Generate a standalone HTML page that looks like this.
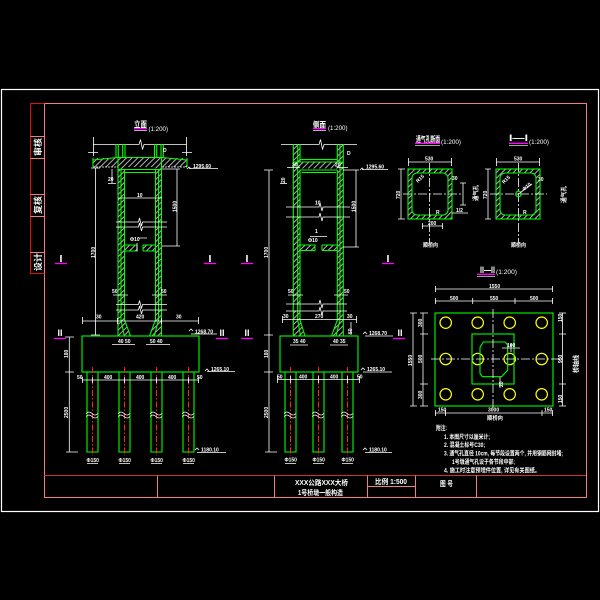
<!DOCTYPE html>
<html><head><meta charset="utf-8"><style>
html,body{margin:0;padding:0;background:#000;width:600px;height:600px;overflow:hidden}
svg{display:block}
text{font-family:"Liberation Sans","Noto Sans CJK SC",sans-serif;fill:#fff;font-weight:bold}
.g{stroke:#00ff00;fill:none;stroke-width:1.1}
.w{stroke:#fff;fill:none;stroke-width:0.8}
.r{stroke:#ff2020;fill:none;stroke-width:1;stroke-dasharray:6 2 1.5 2}
.c{stroke:#fff;fill:none;stroke-width:0.8;stroke-dasharray:9 2 2 2}
.m{stroke:#ff00ff;stroke-width:1.3}
.s{font-size:5px}
.y{stroke:#ffff00;fill:none;stroke-width:1.2}
</style></head><body>
<svg width="600" height="600" viewBox="0 0 600 600" xmlns="http://www.w3.org/2000/svg">
<defs>
<pattern id="h" patternUnits="userSpaceOnUse" width="4" height="4" patternTransform="rotate(45)">
<line x1="1" y1="0" x2="1" y2="4" stroke="#fff" stroke-width="0.7"/>
</pattern>
</defs>
<rect width="600" height="600" fill="#000"/>

<!-- FRAME -->
<rect x="1.5" y="89.5" width="597" height="422" fill="none" stroke="#fff" stroke-width="1.2"/>
<rect x="44.5" y="103.5" width="542" height="394" fill="none" stroke="#f08080" stroke-width="1"/>
<path d="M30.5 103.5V273.5H44.5M30.5 103.5H44.5" stroke="#dd1010" fill="none"/>
<path d="M30.5 136.5H44.5M30.5 158.5H44.5M30.5 194.5H44.5M30.5 216.5H44.5M30.5 252.5H44.5" stroke="#f08080"/>
<text transform="translate(41 156) rotate(-90)" font-size="8.5" textLength="18" lengthAdjust="spacingAndGlyphs">审核</text>
<text transform="translate(41 214) rotate(-90)" font-size="8.5" textLength="18" lengthAdjust="spacingAndGlyphs">复核</text>
<text transform="translate(41 271) rotate(-90)" font-size="8.5" textLength="18" lengthAdjust="spacingAndGlyphs">设计</text>

<!-- TITLE BLOCK -->
<line x1="44" y1="475.5" x2="586" y2="475.5" stroke="#d03030"/>
<path d="M157.5 475.5V497.5M274.5 475.5V497.5M367.5 475.5V497.5M415.5 475.5V497.5M476.5 475.5V497.5M367.5 486.5H415.5" stroke="#f08080" fill="none"/>
<text x="295" y="485" font-size="7" textLength="53" lengthAdjust="spacingAndGlyphs">XXX公路XXX大桥</text>
<text x="298" y="495" font-size="7" textLength="45" lengthAdjust="spacingAndGlyphs">1号桥墩一般构造</text>
<text x="375" y="484" font-size="7" textLength="32" lengthAdjust="spacingAndGlyphs">比例 1:500</text>
<text x="440" y="486" font-size="7" textLength="13" lengthAdjust="spacingAndGlyphs">图 号</text>

<!-- NOTES -->
<text x="436" y="430" font-size="6.5" textLength="11" lengthAdjust="spacingAndGlyphs">附注:</text>
<text x="444" y="439" font-size="6" textLength="46" lengthAdjust="spacingAndGlyphs">1. 本图尺寸以厘米计;</text>
<text x="444" y="447" font-size="6" textLength="41" lengthAdjust="spacingAndGlyphs">2. 混凝土标号C30;</text>
<text x="444" y="455.5" font-size="6" textLength="119" lengthAdjust="spacingAndGlyphs">3. 通气孔直径 10cm, 每节段设置两个, 并用钢筋网封堵;</text>
<text x="452" y="464" font-size="6" textLength="63" lengthAdjust="spacingAndGlyphs">1号墩通气孔设于各节段中部;</text>
<text x="444" y="472.5" font-size="6" textLength="96" lengthAdjust="spacingAndGlyphs">4. 施工时注意预埋件位置, 详见有关图纸。</text>

<!-- ===== FRONT ELEVATION ===== -->
<text x="134" y="127.5" font-size="8.5" textLength="13" lengthAdjust="spacingAndGlyphs">立面</text>
<text x="148.5" y="131" font-size="6.5" textLength="19.5" lengthAdjust="spacingAndGlyphs" style="font-weight:normal">(1:200)</text>
<line x1="134" y1="128.7" x2="147" y2="128.7" class="m"/>
<line x1="134" y1="130.6" x2="147" y2="130.6" stroke="#fff" stroke-width="0.7"/>

<path class="w" d="M93 144.5H139l1.5-5l2 10l1.5-5H186.5M93.5 137V156M186.5 137V156M88 152.5H98M182 152.5H192"/>
<rect x="93" y="158" width="94" height="9" fill="url(#h)"/>
<path class="g" d="M93 160L117 157.5H162L187 160M93 158V167M187 158V167"/>
<path class="w" d="M93 167H118M162 167H187" stroke-dasharray="2 1"/>
<path class="g" d="M116 144V158M118.3 144V158M122.7 144V158M125 144V158M154.5 144V158M156.7 144V158M161 144V158M163.3 144V158"/>

<rect x="118" y="167" width="6.5" height="153" fill="url(#h)"/>
<rect x="155.5" y="167" width="6" height="153" fill="url(#h)"/>
<rect x="124.5" y="245" width="12.5" height="6" fill="url(#h)"/>
<rect x="143" y="245" width="12.5" height="6" fill="url(#h)"/>
<polygon points="118,320 124.5,320 130.5,336 118,336" fill="url(#h)"/>
<polygon points="161.5,320 155.5,320 149.5,336 161.5,336" fill="url(#h)"/>
<rect x="116" y="222.5" width="48" height="4" fill="#000"/>
<rect x="116" y="304.5" width="48" height="5" fill="#000"/>
<path class="g" d="M118 158V336M121 170V320L124.3 336M124.5 170V320L130.5 336M161.5 158V336M158.5 170V320L154.3 336M155.5 170V320L149.5 336"/>
<path class="g" d="M118 169.5H161.5M124.5 172.5H155.5M124.5 245H137V251H124.5M143 245H155.5M143 251H155.5M143 245V251"/>
<path class="w" d="M116 222H138.5l1-4l2 8l1-4H167M116 227H138.5l1-4l2 8l1-4H167"/>
<path class="w" d="M116 304.5H138.5l1-4l2 8l1-4H167M116 310H138.5l1-4l2 8l1-4H167"/>
<line class="w" x1="118" y1="198" x2="162" y2="198"/>
<text x="137" y="197" class="s">10</text>
<text x="108" y="181" class="s">20</text>
<path class="w" d="M108 183.5H116M112 169V183"/>
<text x="130" y="241" class="s">Φ10</text>
<path class="w" d="M139 238H147M137 243V251"/>
<text x="163" y="152" class="s">D</text>
<!-- elevation flag top -->
<path class="w" d="M187 169l2 -2l2 2M189 168.5H218"/>
<text x="193" y="168" class="s">1295.60</text>
<!-- dims -->
<path class="w" d="M95.5 168V335M91 168H100M91 335H100"/>
<text transform="translate(95 258) rotate(-90)" class="s">1700</text>
<path class="w" d="M177 169V246M162 169H180M162 246H180"/>
<text transform="translate(176.5 212) rotate(-90)" class="s">1500</text>
<path class="w" d="M113 295H128M152 295H167"/>
<text x="112" y="293" class="s">50</text>
<text x="161" y="293" class="s">50</text>
<path class="w" d="M82 321H199M82.5 317V324M117.5 318V324M161.5 318V324M198.5 317V324"/>
<text x="96" y="318.5" class="s">30</text>
<text x="136" y="318.5" class="s">420</text>
<text x="176" y="318.5" class="s">30</text>
<!-- cap -->
<rect x="82" y="336" width="117" height="36" class="g" stroke-width="1.3"/>
<text x="118" y="343" class="s">40 50</text>
<text x="150" y="343" class="s">50 40</text>
<path class="w" d="M112 344.5H135M146 344.5H170"/>
<path class="w" d="M189 331l2 -2l2 2M191 334H217"/>
<text x="195" y="333.5" class="s">1268.70</text>
<path class="w" d="M205 371l2 -2l2 2M207 371.5H235"/>
<text x="211" y="371" class="s">1265.10</text>
<!-- piles -->
<path class="g" d="M87 372V452H98V372M119 372V452H130V372M151 372V452H162V372M183 372V452H194V372"/>
<path class="r" d="M92.5 367V456M124.5 367V456M156.5 367V456M188.5 367V456"/>
<path class="w" stroke-width="1.1" d="M86 413.5q3-3 6 0t6 0M86 416.5q3-3 6 0t6 0M118 413.5q3-3 6 0t6 0M118 416.5q3-3 6 0t6 0M150 413.5q3-3 6 0t6 0M150 416.5q3-3 6 0t6 0M182 413.5q3-3 6 0t6 0M182 416.5q3-3 6 0t6 0"/>
<path class="w" d="M82 380H199M82.5 377V383M92.5 377V383M124.5 377V383M156.5 377V383M188.5 377V383M198.5 377V383"/>
<text x="104" y="379" class="s">400</text>
<text x="136" y="379" class="s">400</text>
<text x="168" y="379" class="s">400</text>
<text x="77" y="379" class="s">50</text>
<text x="197" y="379" class="s">50</text>
<text x="86.5" y="462" class="s">Φ150</text>
<text x="118.5" y="462" class="s">Φ150</text>
<text x="150.5" y="462" class="s">Φ150</text>
<text x="182.5" y="462" class="s">Φ150</text>
<path class="w" d="M87 463.5H98M119 463.5H130M151 463.5H162M183 463.5H194"/>
<path class="w" d="M69.3 337V452M65 337H74M65 372H74M66 452H78"/>
<text transform="translate(68 358) rotate(-90)" class="s">180</text>
<text transform="translate(68 418) rotate(-90)" class="s">2500</text>
<path class="w" d="M195 450l2 -2l2 2M197 452.5H226"/>
<text x="201" y="451.5" class="s">1180.10</text>
<!-- section markers -->
<text x="61" y="262" font-size="10.5" text-anchor="middle">I</text>
<line x1="55" y1="263.5" x2="67" y2="263.5" class="m"/>
<text x="210" y="262" font-size="10.5" text-anchor="middle">I</text>
<line x1="204" y1="263.5" x2="216" y2="263.5" class="m"/>
<text x="60" y="336" font-size="9" text-anchor="middle">II</text>
<line x1="54" y1="338.5" x2="66" y2="338.5" class="m"/>
<text x="222" y="336" font-size="9" text-anchor="middle">II</text>
<line x1="216" y1="338.5" x2="228" y2="338.5" class="m"/>

<!-- ===== SIDE ELEVATION ===== -->
<text x="313" y="128" font-size="8.5" textLength="13" lengthAdjust="spacingAndGlyphs">侧面</text>
<text x="328" y="130" font-size="6.5" textLength="19.5" lengthAdjust="spacingAndGlyphs" style="font-weight:normal">(1:200)</text>
<line x1="313" y1="128.7" x2="326" y2="128.7" class="m"/>
<line x1="313" y1="130.6" x2="326" y2="130.6" stroke="#fff" stroke-width="0.7"/>
<path class="w" d="M281 144.5H319l1.5-5l2 10l1.5-5H357"/>
<rect x="293" y="162" width="50" height="6.5" fill="url(#h)"/>
<rect x="293" y="144" width="6.5" height="176" fill="url(#h)"/>
<rect x="337" y="144" width="6.3" height="176" fill="url(#h)"/>
<rect x="300" y="245" width="15" height="5.5" fill="url(#h)"/>
<rect x="322" y="245" width="15" height="5.5" fill="url(#h)"/>
<polygon points="293,320 299.5,320 305,336 293,336" fill="url(#h)"/>
<polygon points="343.3,320 337,320 331.5,336 343.3,336" fill="url(#h)"/>
<rect x="286" y="207.5" width="64" height="9" fill="#000"/>
<rect x="286" y="304.5" width="62" height="6" fill="#000"/>
<path class="g" d="M293.3 144V336M297.7 144V320L300.5 336M300 144V162M300 170V320L305 336M343.3 144V336M340 144V320L336 336M337.3 144V162M337.3 170V320L331.5 336"/>
<path class="g" d="M300 159.5H337.3M293 162H343.3M300 170H337.3M301.7 172.5H336M300 245H315V250.5H300M322 245H337M322 250.5H337M322 245V250.5"/>
<path class="w" d="M287 167.5H300M337 167.5H348"/>
<text x="292" y="166.5" class="s">20</text>
<text x="335" y="166.5" class="s">20</text>
<text x="347" y="155" class="s">D</text>
<text transform="translate(285 183) rotate(-90)" class="s">20</text>
<path class="w" d="M280 183.5H287"/>
<path class="w" d="M286 207H319l1-4l2 8l1-4H350M286 217H319l1-4l2 8l1-4H350"/>
<text x="315" y="204.5" class="s">10</text>
<text x="315" y="233" class="s">1</text>
<text x="308" y="242" class="s">Φ10</text>
<path class="w" d="M310 236.5H327"/>
<path class="w" d="M360 170l2-2l2 2M362 169.5H388"/>
<text x="366" y="168.5" class="s">1295.60</text>
<path class="w" d="M269 170V452M264 170H273M264 335H273M264 372H273M265 452H277"/>
<text transform="translate(268 258) rotate(-90)" class="s">1700</text>
<path class="w" d="M356 170V247M343 170H359M343 247H359"/>
<text transform="translate(355.5 212) rotate(-90)" class="s">1500</text>
<path class="w" d="M288 295H303M334 295H348"/>
<text x="288" y="293" class="s">50</text>
<text x="344" y="293" class="s">50</text>
<path class="w" d="M286 304H319l1-4l2 8l1-4H347M286 311H319l1-4l2 8l1-4H347"/>
<path class="w" d="M282 319.5H357M282.5 316V323M356.5 316V323M351 322V335"/>
<text x="283" y="318" class="s">30</text>
<text x="315" y="318" class="s">270</text>
<text x="347" y="318" class="s">30</text>
<text transform="translate(352 334) rotate(-90)" class="s">50</text>
<rect x="280" y="336" width="78" height="36" class="g" stroke-width="1.3"/>
<text x="293" y="343" class="s">35 40</text>
<text x="333" y="343" class="s">40 35</text>
<path class="w" d="M290 345H308M330 345H348"/>
<path class="w" d="M363 334l2-2l2 2M365 336H393"/>
<text x="369" y="335" class="s">1268.70</text>
<path class="w" d="M361 370l2-2l2 2M363 372H392"/>
<text x="367" y="371" class="s">1265.10</text>
<path class="g" d="M285 372V452H296V372M313 372V452H324V372M342 372V452H353V372"/>
<path class="r" d="M290.5 367V456M318.5 367V456M347.5 367V456"/>
<path class="w" stroke-width="1.1" d="M284 413.5q3-3 6 0t6 0M284 416.5q3-3 6 0t6 0M312 413.5q3-3 6 0t6 0M312 416.5q3-3 6 0t6 0M341 413.5q3-3 6 0t6 0M341 416.5q3-3 6 0t6 0"/>
<path class="w" d="M277 379.5H360M277.5 376V383M290.5 376V383M318.5 376V383M347.5 376V383M359.5 376V383"/>
<text x="277" y="378.5" class="s">50</text>
<text x="299" y="378.5" class="s">400</text>
<text x="330" y="378.5" class="s">400</text>
<text x="357" y="378.5" class="s">50</text>
<text transform="translate(268 358) rotate(-90)" class="s">180</text>
<text transform="translate(268 418) rotate(-90)" class="s">2500</text>
<text x="284.5" y="461.5" class="s">Φ150</text>
<text x="312.5" y="461.5" class="s">Φ150</text>
<text x="341.5" y="461.5" class="s">Φ150</text>
<path class="w" d="M285 463.5H296M313 463.5H324M342 463.5H353"/>
<path class="w" d="M363 450l2-2l2 2M365 452.5H392"/>
<text x="369" y="451.5" class="s">1180.10</text>
<text x="247" y="262" font-size="10.5" text-anchor="middle">I</text>
<line x1="241" y1="263.5" x2="253" y2="263.5" class="m"/>
<text x="388" y="262" font-size="10.5" text-anchor="middle">I</text>
<line x1="382" y1="263.5" x2="394" y2="263.5" class="m"/>
<text x="247" y="336" font-size="9" text-anchor="middle">II</text>
<line x1="241" y1="338.5" x2="253" y2="338.5" class="m"/>
<text x="400" y="336" font-size="9" text-anchor="middle">II</text>
<line x1="393" y1="338.5" x2="405" y2="338.5" class="m"/>

<!-- ===== VENT SECTION ===== -->
<text x="416" y="142" font-size="8" textLength="24" lengthAdjust="spacingAndGlyphs">通气孔断面</text>
<text x="441" y="144" font-size="6.5" textLength="20" lengthAdjust="spacingAndGlyphs" style="font-weight:normal">(1:200)</text>
<line x1="415" y1="143.3" x2="440" y2="143.3" class="m"/>
<line x1="415" y1="145.3" x2="440" y2="145.3" stroke="#fff" stroke-width="0.7"/>
<rect x="408" y="169" width="44" height="50" fill="url(#h)"/>
<rect x="412" y="173" width="36" height="42" rx="5" fill="#000" stroke="#00ff00" stroke-width="1.1"/>
<rect x="408" y="169" width="44" height="50" class="g"/>
<path class="c" d="M403 194H462M429.5 163V243"/>
<path class="w" d="M408 162H452M408.5 158V166M451.5 158V166"/>
<text x="425" y="160.5" class="s">530</text>
<path class="w" d="M401 169V219M398 169H405M398 219H405"/>
<text transform="translate(400 199) rotate(-90)" class="s">720</text>
<path class="w" d="M422 226H443M422.5 223V229M442.5 223V229"/>
<text x="428" y="225" class="s">200</text>
<text transform="translate(418 183) rotate(-45)" class="s">R15</text>
<text x="436" y="214" class="s">R</text>
<text x="452" y="180" class="s">30</text>
<path class="w" d="M463 183V205M460 183H466M460 205H466M452 213H468"/>
<text x="456" y="212" class="s">1/2</text>
<text transform="translate(478 201) rotate(-90)" font-size="6" textLength="16" lengthAdjust="spacingAndGlyphs">通气孔</text>
<text x="423" y="247" font-size="5.5" textLength="15" lengthAdjust="spacingAndGlyphs">顺桥向</text>

<!-- ===== I-I SECTION ===== -->
<text x="509" y="141" font-size="9" textLength="19" lengthAdjust="spacingAndGlyphs">I—I</text>
<text x="529" y="144" font-size="6.5" textLength="20" lengthAdjust="spacingAndGlyphs" style="font-weight:normal">(1:200)</text>
<line x1="509" y1="143.3" x2="528" y2="143.3" class="m"/>
<line x1="509" y1="145.3" x2="528" y2="145.3" stroke="#fff" stroke-width="0.7"/>
<rect x="496" y="169" width="44" height="50" fill="url(#h)"/>
<rect x="500" y="173" width="36" height="42" rx="5" fill="#000" stroke="#00ff00" stroke-width="1.1"/>
<rect x="496" y="169" width="44" height="50" class="g"/>
<path class="c" d="M490 194H547M518.5 163V243"/>
<circle cx="518.5" cy="194" r="2.8" class="g"/>
<path class="w" d="M496 162H540M496.5 158V166M539.5 158V166"/>
<text x="514" y="160.5" class="s">530</text>
<path class="w" d="M488 169V219M485 169H491M485 219H491"/>
<text transform="translate(487 199) rotate(-90)" class="s">720</text>
<text transform="translate(504 184) rotate(-45)" class="s">R15</text>
<path class="w" d="M518.5 194L532 184"/>
<text transform="translate(524 191) rotate(-40)" class="s">Φ10</text>
<text x="523" y="214" class="s">R</text>
<text x="538" y="181" class="s">30</text>
<text transform="translate(566 203) rotate(-90)" font-size="6" textLength="17" lengthAdjust="spacingAndGlyphs">通气孔</text>
<text x="511" y="247" font-size="5.5" textLength="15" lengthAdjust="spacingAndGlyphs">顺桥向</text>

<!-- ===== II-II PLAN ===== -->
<text x="480" y="273" font-size="9" textLength="15" lengthAdjust="spacingAndGlyphs">II—II</text>
<text x="496" y="274" font-size="6.5" textLength="21" lengthAdjust="spacingAndGlyphs" style="font-weight:normal">(1:200)</text>
<line x1="477" y1="274.3" x2="495" y2="274.3" class="m"/>
<line x1="477" y1="276.3" x2="495" y2="276.3" stroke="#fff" stroke-width="0.7"/>
<path class="w" d="M435 289H553M435.5 286V292M552.5 286V292"/>
<text x="489" y="288" class="s">1550</text>
<path class="w" d="M435 301H553M435.5 298V304M472.7 298V304M515 298V304M552.5 298V304"/>
<text x="450" y="300" class="s">500</text>
<text x="490" y="300" class="s">550</text>
<text x="530" y="300" class="s">500</text>
<rect x="435" y="313" width="118" height="93" class="g" stroke-width="1.2"/>
<g class="y">
<circle cx="445.7" cy="322.7" r="5.7"/><circle cx="477.7" cy="322.7" r="5.7"/><circle cx="509.7" cy="322.7" r="5.7"/><circle cx="541.7" cy="322.7" r="5.7"/>
<circle cx="445.7" cy="359" r="5.7"/><circle cx="477.7" cy="359" r="5.7"/><circle cx="509.7" cy="359" r="5.7"/><circle cx="541.7" cy="359" r="5.7"/>
<circle cx="445.7" cy="394.3" r="5.7"/><circle cx="477.7" cy="394.3" r="5.7"/><circle cx="509.7" cy="394.3" r="5.7"/><circle cx="541.7" cy="394.3" r="5.7"/>
</g>
<rect x="472" y="334" width="42" height="50" class="g"/>
<path class="g" d="M483.3 342H505L507.7 345V370L501.7 376.7H482.3L480 373.3V347.3Z"/>
<path class="c" d="M431 359H562M493 309V410"/>
<path class="w" d="M502 348H520M511 344V352M500 377V388"/>
<text x="507" y="347" class="s">100</text>
<text transform="translate(503 387) rotate(-90)" class="s">20</text>
<path class="w" d="M413 313V406M410 313H417M410 406H417"/>
<text transform="translate(412 366) rotate(-90)" class="s">1550</text>
<path class="w" d="M423 313V406M420 313H428M420 334H428M420 384H428M420 406H428"/>
<text transform="translate(422 327) rotate(-90)" class="s">300</text>
<text transform="translate(422 363) rotate(-90)" class="s">500</text>
<text transform="translate(422 399) rotate(-90)" class="s">300</text>
<path class="w" d="M562.5 313V406M559 313H566M559 334H566M559 384H566M559 406H566"/>
<text transform="translate(562 322) rotate(-90)" class="s">150</text>
<text transform="translate(562 363) rotate(-90)" class="s">950</text>
<text transform="translate(562 403) rotate(-90)" class="s">150</text>
<text transform="translate(578 373) rotate(-90)" font-size="6.5" textLength="18" lengthAdjust="spacingAndGlyphs">桥轴线</text>
<path class="w" d="M435 413H553M435.5 410V416M445.5 410V416M542 410V416M552.5 410V416"/>
<text x="438" y="411.5" class="s">150</text>
<text x="488" y="411.5" class="s">3000</text>
<text x="544" y="411.5" class="s">150</text>
<text x="487" y="420" font-size="5.5" textLength="16" lengthAdjust="spacingAndGlyphs">顺桥向</text>
</svg>
</body></html>
